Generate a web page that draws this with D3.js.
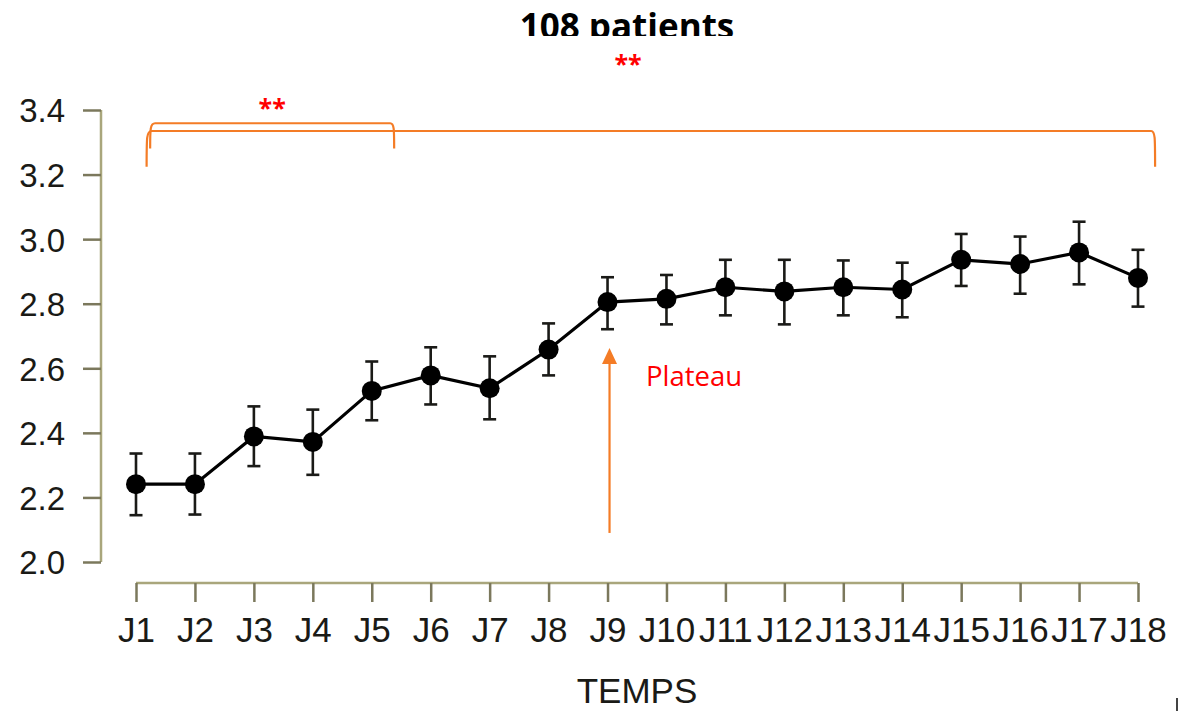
<!DOCTYPE html>
<html>
<head>
<meta charset="utf-8">
<script src="https://cdn.jsdelivr.net/npm/d3@7"></script>
<style>
  body { margin: 0; background: #fff; }
  svg { display: block; }
  .tick-label { font-family: "Liberation Sans", Arial, sans-serif; fill: #1a1a16; }
</style>
</head>
<body>
<div id="chart"></div>
<script>
// categories and values
const days = ['J1', 'J2', 'J3', 'J4', 'J5', 'J6', 'J7', 'J8', 'J9', 'J10', 'J11', 'J12', 'J13', 'J14', 'J15', 'J16', 'J17', 'J18'];
const means = [2.241, 2.241, 2.389, 2.372, 2.530, 2.578, 2.538, 2.658, 2.805, 2.815, 2.851, 2.838, 2.851, 2.844, 2.936, 2.923, 2.959, 2.880];
const upper = [2.336, 2.336, 2.482, 2.472, 2.621, 2.665, 2.637, 2.739, 2.882, 2.889, 2.936, 2.936, 2.934, 2.927, 3.016, 3.008, 3.054, 2.967];
const lower = [2.145, 2.147, 2.297, 2.270, 2.439, 2.488, 2.442, 2.578, 2.721, 2.736, 2.764, 2.736, 2.764, 2.758, 2.855, 2.831, 2.860, 2.791];
const yTicks = [2.0, 2.2, 2.4, 2.6, 2.8, 3.0, 3.2, 3.4];

// significance brackets: [start index, end index, top value, foot value]
const brackets = [
    [0.18, 17.29, 3.335, 3.224],
    [0.24, 4.38, 3.359, 3.281]
];
const plateauDay = 'J9';
const plateauFrom = 2.09;
const plateauTo = 2.663;

const width = 1184;
const height = 711;

const svg = d3.select('#chart')
    .append('svg')
    .attr('width', width)
    .attr('height', height);

const x = d3.scalePoint().domain(days).range([136, 1138]);
const xi = d3.scaleLinear().domain([0, days.length - 1]).range([136, 1138]);
const y = d3.scaleLinear().domain([2.0, 3.4]).range([562, 110]);

const axisColor = '#a9a67c';
const tickColor = '#7b785c';

// y axis
const yAxis = svg.append('g')
    .attr('transform', 'translate(101,0)')
    .call(d3.axisLeft(y).tickValues(yTicks).tickFormat(d3.format('.1f')).tickSize(18).tickPadding(18));
yAxis.select('.domain').attr('stroke', axisColor).attr('stroke-width', 2.5).attr('d', `M0,${y(2.0)}V${y(3.4)}`);
yAxis.selectAll('.tick line').attr('stroke', tickColor).attr('stroke-width', 2.5);
yAxis.selectAll('.tick text')
    .attr('class', 'tick-label')
    .attr('font-size', 33)
    .attr('dy', '0.36em');
yAxis.attr('font-family', null).attr('font-size', null);

// x axis
const xAxis = svg.append('g')
    .attr('transform', 'translate(0,583)')
    .call(d3.axisBottom(x).tickSize(19).tickPadding(15));
xAxis.select('.domain').attr('stroke', axisColor).attr('stroke-width', 2.5).attr('d', `M${x('J1')},0H${x('J18')}`);
xAxis.selectAll('.tick line').attr('stroke', tickColor).attr('stroke-width', 2.5);
xAxis.selectAll('.tick text')
    .attr('class', 'tick-label')
    .attr('font-size', 35)
    .attr('dy', '0.71em');
xAxis.attr('font-family', null).attr('font-size', null);

svg.append('text')
    .attr('class', 'tick-label')
    .attr('x', (x('J1') + x('J18')) / 2)
    .attr('y', 703)
    .attr('text-anchor', 'middle')
    .attr('font-size', 35)
    .text('TEMPS');

// error bars
const bars = svg.append('g').attr('stroke', '#1a1a17').attr('stroke-width', 2.6);
days.forEach((d, i) => {
    bars.append('line').attr('x1', x(d)).attr('x2', x(d)).attr('y1', y(upper[i])).attr('y2', y(lower[i]));
    bars.append('line').attr('x1', x(d) - 6.5).attr('x2', x(d) + 6.5).attr('y1', y(upper[i])).attr('y2', y(upper[i]));
    bars.append('line').attr('x1', x(d) - 6.5).attr('x2', x(d) + 6.5).attr('y1', y(lower[i])).attr('y2', y(lower[i]));
});

// mean line and points
svg.append('path')
    .datum(means)
    .attr('fill', 'none')
    .attr('stroke', '#000')
    .attr('stroke-width', 3.2)
    .attr('d', d3.line().x((d, i) => x(days[i])).y(d => y(d)));

svg.append('g')
    .selectAll('circle')
    .data(means)
    .enter().append('circle')
    .attr('cx', (d, i) => x(days[i]))
    .attr('cy', d => y(d))
    .attr('r', 10)
    .attr('fill', '#000');

// brackets
const orange = '#f47c26';
svg.append('g')
    .selectAll('path')
    .data(brackets)
    .enter().append('path')
    .attr('fill', 'none')
    .attr('stroke', orange)
    .attr('stroke-width', 2.2)
    .attr('d', b => {
        const x0 = xi(b[0]), x1 = xi(b[1]), yt = y(b[2]), yf = y(b[3]);
        return `M${x0},${yf} C${x0},${yt + 6} ${x0},${yt} ${x0 + 5},${yt} H${x1 - 4} C${x1},${yt} ${x1},${yt + 6} ${x1},${yf}`;
    });

// stars
svg.append('text')
    .attr('x', (xi(brackets[1][0]) + xi(brackets[1][1])) / 2)
    .attr('y', 117)
    .attr('text-anchor', 'middle')
    .attr('font-family', '"Open Sans", sans-serif')
    .attr('font-weight', 700)
    .attr('font-size', 25)
    .attr('fill', '#ff0000')
    .text('**');

svg.append('text')
    .attr('x', 628)
    .attr('y', 73)
    .attr('text-anchor', 'middle')
    .attr('font-family', '"Open Sans", sans-serif')
    .attr('font-weight', 700)
    .attr('font-size', 25)
    .attr('fill', '#ff0000')
    .text('**');

// title, cropped at the bottom like the reference
svg.append('clipPath').attr('id', 'title-clip')
    .append('rect').attr('x', 0).attr('y', 0).attr('width', width).attr('height', 36);
svg.append('text')
    .attr('clip-path', 'url(#title-clip)')
    .attr('x', 627)
    .attr('y', 39)
    .attr('text-anchor', 'middle')
    .attr('font-family', '"Open Sans", sans-serif')
    .attr('font-weight', 700)
    .attr('font-size', 35)
    .attr('fill', '#000')
    .text('108 patients');

// plateau arrow
const ax = x(plateauDay) + 2;
svg.append('line')
    .attr('x1', ax).attr('x2', ax)
    .attr('y1', y(plateauFrom)).attr('y2', y(plateauTo) + 14)
    .attr('stroke', orange)
    .attr('stroke-width', 2.2);
svg.append('path')
    .attr('fill', orange)
    .attr('d', `M${ax},${y(plateauTo)} L${ax + 7.5},${y(plateauTo) + 16} L${ax - 7.5},${y(plateauTo) + 16} Z`);

svg.append('text')
    .attr('x', 646)
    .attr('y', 386)
    .attr('font-family', '"Open Sans", sans-serif')
    .attr('font-size', 27.5)
    .attr('fill', '#ff0000')
    .text('Plateau');

// stray mark at the bottom right edge
svg.append('line')
    .attr('x1', 1177).attr('x2', 1177).attr('y1', 698).attr('y2', 711)
    .attr('stroke', '#444').attr('stroke-width', 2);
</script>
</body>
</html>
